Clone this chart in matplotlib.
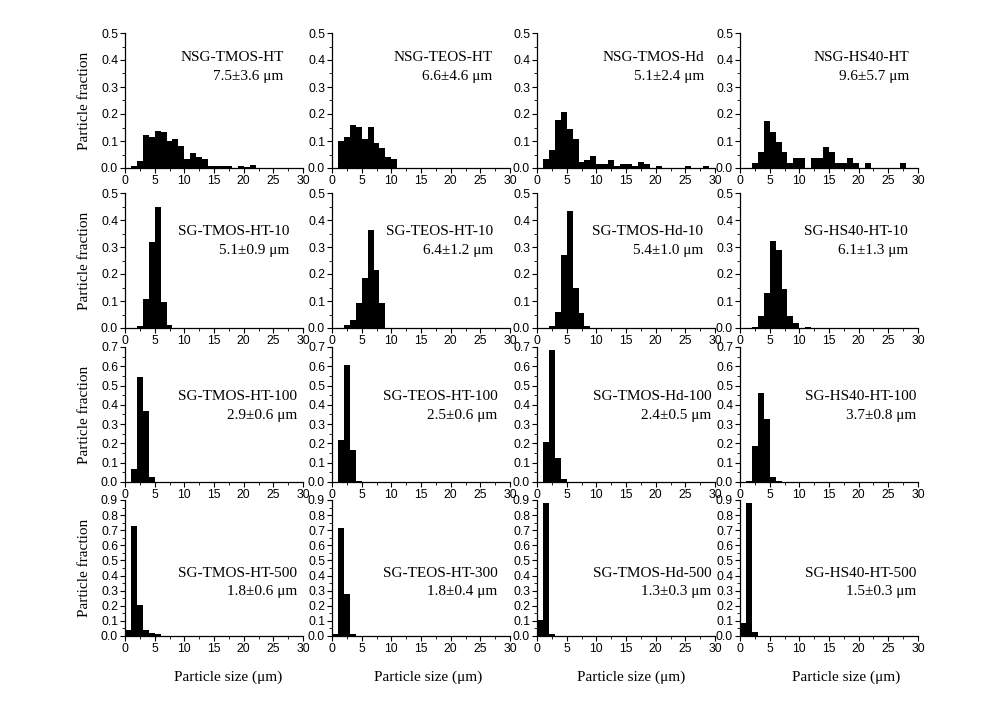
import numpy as np
import matplotlib
matplotlib.use("Agg")
import matplotlib.pyplot as plt
from matplotlib.ticker import MultipleLocator, FormatStrFormatter

# sample names and mean +/- sd, row by row
names = [
    "NSG-TMOS-HT", "NSG-TEOS-HT", "NSG-TMOS-Hd", "NSG-HS40-HT",
    "SG-TMOS-HT-10", "SG-TEOS-HT-10", "SG-TMOS-Hd-10", "SG-HS40-HT-10",
    "SG-TMOS-HT-100", "SG-TEOS-HT-100", "SG-TMOS-Hd-100", "SG-HS40-HT-100",
    "SG-TMOS-HT-500", "SG-TEOS-HT-300", "SG-TMOS-Hd-500", "SG-HS40-HT-500",
]
sizes = [
    "7.5\u00b13.6", "6.6\u00b14.6", "5.1\u00b12.4", "9.6\u00b15.7",
    "5.1\u00b10.9", "6.4\u00b11.2", "5.4\u00b11.0", "6.1\u00b11.3",
    "2.9\u00b10.6", "2.5\u00b10.6", "2.4\u00b10.5", "3.7\u00b10.8",
    "1.8\u00b10.6", "1.8\u00b10.4", "1.3\u00b10.3", "1.5\u00b10.3",
]

# particle fraction per 1 um bin, first value is the 0-1 um bin
nsg_tmos_ht = [0, 0.008, 0.027, 0.124, 0.116, 0.138, 0.132, 0.100, 0.109, 0.083, 0.032,
               0.057, 0.039, 0.032, 0.009, 0.009, 0.009, 0.009, 0, 0.007, 0.004, 0.012]
nsg_teos_ht = [0, 0.100, 0.116, 0.160, 0.152, 0.109, 0.152, 0.091, 0.074, 0.039, 0.032]
nsg_tmos_hd = [0, 0.035, 0.068, 0.178, 0.207, 0.145, 0.109, 0.022, 0.028, 0.046, 0.013,
               0.013, 0.028, 0.006, 0.013, 0.013, 0.006, 0.022, 0.013, 0, 0.006,
               0, 0, 0, 0, 0.006, 0, 0, 0.006]
nsg_hs40_ht = [0, 0, 0.020, 0.060, 0.173, 0.134, 0.096, 0.060, 0.020, 0.038, 0.038,
               0, 0.038, 0.038, 0.078, 0.060, 0.020, 0.020, 0.038, 0.020, 0,
               0.020, 0, 0, 0, 0, 0, 0.020]
sg_tmos_ht_10 = [0, 0, 0.008, 0.108, 0.317, 0.449, 0.097, 0.010]
sg_teos_ht_10 = [0, 0, 0.010, 0.028, 0.094, 0.185, 0.362, 0.215, 0.094]
sg_tmos_hd_10 = [0, 0, 0.008, 0.061, 0.270, 0.434, 0.149, 0.057, 0.008]
sg_hs40_ht_10 = [0, 0, 0.004, 0.046, 0.130, 0.324, 0.290, 0.145, 0.046, 0.018, 0, 0.004]
sg_tmos_ht_100 = [0, 0.068, 0.543, 0.368, 0.026]
sg_teos_ht_100 = [0, 0.219, 0.608, 0.167, 0.005]
sg_tmos_hd_100 = [0, 0.208, 0.682, 0.126, 0.014]
sg_hs40_ht_100 = [0, 0.005, 0.186, 0.460, 0.325, 0.028, 0.006]
sg_tmos_ht_500 = [0.040, 0.728, 0.205, 0.038, 0.020, 0.011, 0.003]
sg_teos_ht_300 = [0.010, 0.712, 0.276, 0.011]
sg_tmos_hd_500 = [0.104, 0.880, 0.013]
sg_hs40_ht_500 = [0.088, 0.880, 0.027]

fractions = [
    nsg_tmos_ht, nsg_teos_ht, nsg_tmos_hd, nsg_hs40_ht,
    sg_tmos_ht_10, sg_teos_ht_10, sg_tmos_hd_10, sg_hs40_ht_10,
    sg_tmos_ht_100, sg_teos_ht_100, sg_tmos_hd_100, sg_hs40_ht_100,
    sg_tmos_ht_500, sg_teos_ht_300, sg_tmos_hd_500, sg_hs40_ht_500,
]
row_ymax = [0.5, 0.5, 0.7, 0.9]

# layout (pixels of a 1001x705 figure)
W, H = 1001, 705
col_left = [125, 332, 537, 740]
col_w = 178
row_top = [33, 193, 347, 500]
row_bot = [168, 328, 482, 636]
# right edge of the annotation text, axes fraction
text_x = [[0.89, 0.90, 0.94, 0.95],
          [0.925, 0.905, 0.935, 0.945],
          [0.965, 0.93, 0.98, 0.99],
          [0.965, 0.93, 0.98, 0.99]]
text_y = [(0.817, 0.675), (0.712, 0.571), (0.63, 0.489), (0.463, 0.324)]

serif = "Liberation Serif"
sans = "Liberation Sans"

fig = plt.figure(figsize=(W / 100, H / 100), dpi=100)

for i in range(16):
    r, c = divmod(i, 4)
    ax = fig.add_axes([col_left[c] / W, 1 - row_bot[r] / H,
                       col_w / W, (row_bot[r] - row_top[r]) / H])
    vals = fractions[i]
    ax.bar(np.arange(len(vals)), vals, width=1.0, align="edge",
           color="black", linewidth=0)
    ax.set_xlim(0, 30)
    ax.set_ylim(0, row_ymax[r])
    for s in ["top", "right"]:
        ax.spines[s].set_visible(False)
    for s in ["left", "bottom"]:
        ax.spines[s].set_linewidth(0.9)
    ax.xaxis.set_major_locator(MultipleLocator(5))
    ax.xaxis.set_minor_locator(MultipleLocator(2.5))
    ax.yaxis.set_major_locator(MultipleLocator(0.1))
    ax.yaxis.set_minor_locator(MultipleLocator(0.05))
    ax.yaxis.set_major_formatter(FormatStrFormatter("%.1f"))
    ax.tick_params(which="major", direction="out", length=3.5, width=0.8,
                   labelsize=8.8, pad=1.5)
    ax.tick_params(which="minor", direction="out", length=2, width=0.6)
    for lab in ax.get_xticklabels() + ax.get_yticklabels():
        lab.set_fontfamily(sans)

    ax.text(text_x[r][c], text_y[r][0], names[i], transform=ax.transAxes,
            ha="right", va="center", fontsize=11, family=serif)
    ax.text(text_x[r][c], text_y[r][1], sizes[i] + " \u03bcm", transform=ax.transAxes,
            ha="right", va="center", fontsize=11, family=serif)

# y labels on the left
for r in range(4):
    yc = 1 - (row_top[r] + row_bot[r]) / 2 / H
    fig.text(85 / W, yc, "Particle fraction", rotation=90, ha="center",
             va="center", fontsize=11, family=serif)

# x labels under each column
for xc in [228, 428, 631, 846]:
    fig.text(xc / W, 1 - 677 / H, "Particle size (\u03bcm)", ha="center",
             va="center", fontsize=11, family=serif)

fig.savefig("out.png", dpi=100)
